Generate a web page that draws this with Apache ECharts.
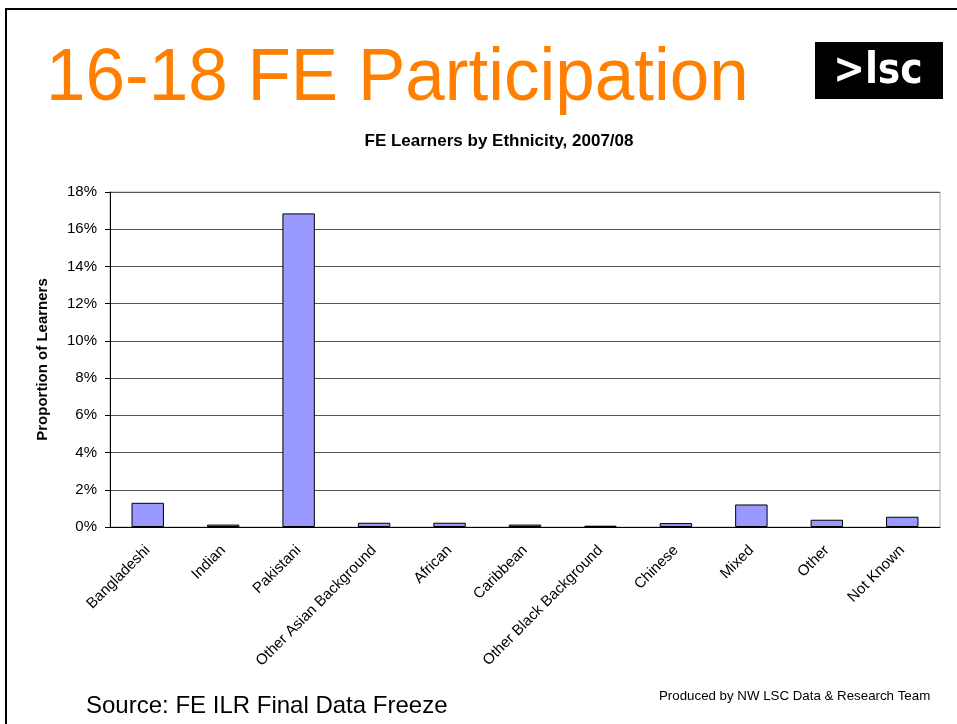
<html>
<head>
    <title>16-18 FE Participation</title>
    <script src="https://cdn.jsdelivr.net/npm/echarts@6/dist/echarts.min.js"></script>
    <style>
        html, body { margin: 0; padding: 0; background: #fff; }
    </style>
</head>
<body>
<div id="chart" style="width: 957px; height: 724px;"></div>
<script type="text/javascript">
    // ethnic groups along the x axis
    var categories = ['Bangladeshi', 'Indian', 'Pakistani', 'Other Asian Background', 'African',
        'Caribbean', 'Other Black Background', 'Chinese', 'Mixed', 'Other', 'Not Known'];
    // proportion of learners, in percent
    var proportions = [1.30, 0.13, 16.85, 0.23, 0.23, 0.13, 0.07, 0.21, 1.21, 0.39, 0.55];
    var yTicks = [0, 2, 4, 6, 8, 10, 12, 14, 16, 18];

    var chart = echarts.init(document.getElementById('chart'));
    var arial = 'Arial, "Liberation Sans", sans-serif';

    var option = {
        backgroundColor: '#fff',
        animation: false,
        textStyle: { fontFamily: arial },
        title: {
            text: 'FE Learners by Ethnicity, 2007/08',
            left: 494,
            top: 122,
            textAlign: 'center',
            textStyle: { fontSize: 17, fontWeight: 'bold', color: '#000' }
        },
        grid: {
            left: 110,
            right: 17,
            top: 192,
            bottom: 197,
            show: true,
            borderColor: '#aaa',
            borderWidth: 1
        },
        xAxis: {
            type: 'category',
            data: categories,
            axisLine: { lineStyle: { color: '#000', width: 1 } },
            axisTick: { alignWithLabel: false, length: 6, lineStyle: { color: '#000' } },
            axisLabel: {
                interval: 0,
                rotate: 45,
                fontSize: 15,
                color: '#000',
                margin: 21
            }
        },
        yAxis: {
            type: 'value',
            min: yTicks[0],
            max: yTicks[yTicks.length - 1],
            interval: 2,
            name: 'Proportion of Learners',
            nameLocation: 'middle',
            nameGap: 47,
            nameTextStyle: { fontSize: 15, fontWeight: 'bold', color: '#000' },
            axisLine: { show: true, lineStyle: { color: '#000' } },
            axisTick: { show: true, length: 5, lineStyle: { color: '#000' } },
            axisLabel: {
                fontSize: 15,
                color: '#000',
                margin: 13,
                formatter: function (v) { return v + '%'; }
            },
            splitLine: { lineStyle: { color: '#555', width: 1 } }
        },
        series: [{
            type: 'bar',
            data: proportions,
            barWidth: '43%',
            itemStyle: { color: '#9999FF', borderColor: '#000', borderWidth: 1 }
        }],
        graphic: [
            {
                // slide frame
                type: 'rect',
                shape: { x: 6, y: 9, width: 1000, height: 800 },
                style: { fill: null, stroke: '#000', lineWidth: 2 },
                silent: true
            },
            {
                type: 'text',
                x: 46,
                y: 80,
                scaleX: 0.96,
                style: {
                    text: '16-18 FE Participation',
                    fontSize: 74,
                    fontFamily: arial,
                    fill: '#FF8000',
                    verticalAlign: 'middle'
                }
            },
            {
                type: 'rect',
                shape: { x: 815, y: 42, width: 128, height: 57 },
                style: { fill: '#000' }
            },
            {
                type: 'text',
                x: 878,
                y: 72,
                scaleX: 0.9,
                style: {
                    text: '>lsc',
                    fontSize: 42,
                    fontWeight: 'bold',
                    fontFamily: '"DejaVu Sans", sans-serif',
                    fill: '#fff',
                    align: 'center',
                    verticalAlign: 'middle'
                }
            },
            {
                type: 'text',
                left: 86,
                top: 686,
                style: {
                    text: 'Source: FE ILR Final Data Freeze',
                    fontSize: 24,
                    fontFamily: arial,
                    fill: '#000'
                }
            },
            {
                type: 'text',
                left: 659,
                top: 685,
                style: {
                    text: 'Produced by NW LSC Data & Research Team',
                    fontSize: 13.3,
                    fontFamily: arial,
                    fill: '#000'
                }
            }
        ]
    };

    chart.setOption(option);
</script>
</body>
</html>
